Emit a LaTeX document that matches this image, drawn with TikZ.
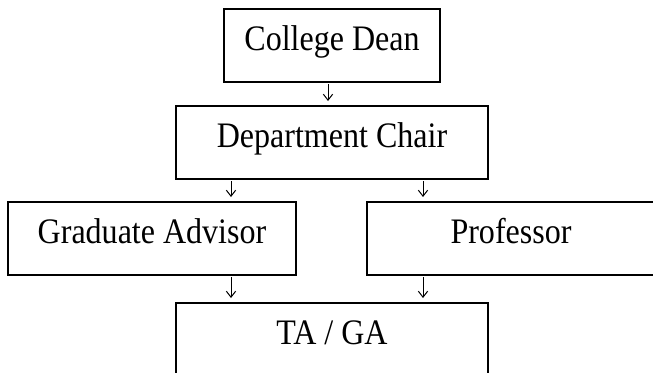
\documentclass[tikz,border=0pt]{standalone}
\usepackage{fontspec}
\setmainfont{Liberation Serif}
\newfontfamily\boxfont[FakeStretch=0.893]{Liberation Serif}
\usetikzlibrary{arrows.meta}

\begin{document}
\begin{tikzpicture}[x=0.75pt, y=-0.75pt,
  orgbox/.style={draw, line width=1.5pt, rectangle, inner sep=0pt, anchor=north,
    text height=31pt, text depth=23.5pt, font=\boxfont\fontsize{26.9pt}{30pt}\selectfont},
  orgarrow/.style={-{Straight Barb[length=4.5pt, width=7pt]}, line width=0.75pt,
    shorten <=1pt, shorten >=3pt}]

\path [use as bounding box, clip] (0,0) rectangle (653,372);
\fill [white] (0,0) rectangle (653,372);

\coordinate (colM) at (328,0);
\coordinate (colL) at (231,0);
\coordinate (colR) at (423,0);

\node [orgbox, minimum width=162pt] (dean) at (332,8) {College Dean};
\node [orgbox, minimum width=234pt] (chair) at (332,105) {Department Chair};
\node [orgbox, minimum width=216pt] (advisor) at (152,201) {Graduate Advisor};
\node [orgbox, minimum width=216pt] (prof) at (511,201) {Professor};
\node [orgbox, minimum width=234pt] (ta) at (332,302) {TA / GA};

\draw [orgarrow] (dean.south -| colM) -- (chair.north -| colM);
\draw [orgarrow] (chair.south -| colL) -- (advisor.north -| colL);
\draw [orgarrow] (chair.south -| colR) -- (prof.north -| colR);
\draw [orgarrow] (advisor.south -| colL) -- (ta.north -| colL);
\draw [orgarrow] (prof.south -| colR) -- (ta.north -| colR);

\end{tikzpicture}
\end{document}
